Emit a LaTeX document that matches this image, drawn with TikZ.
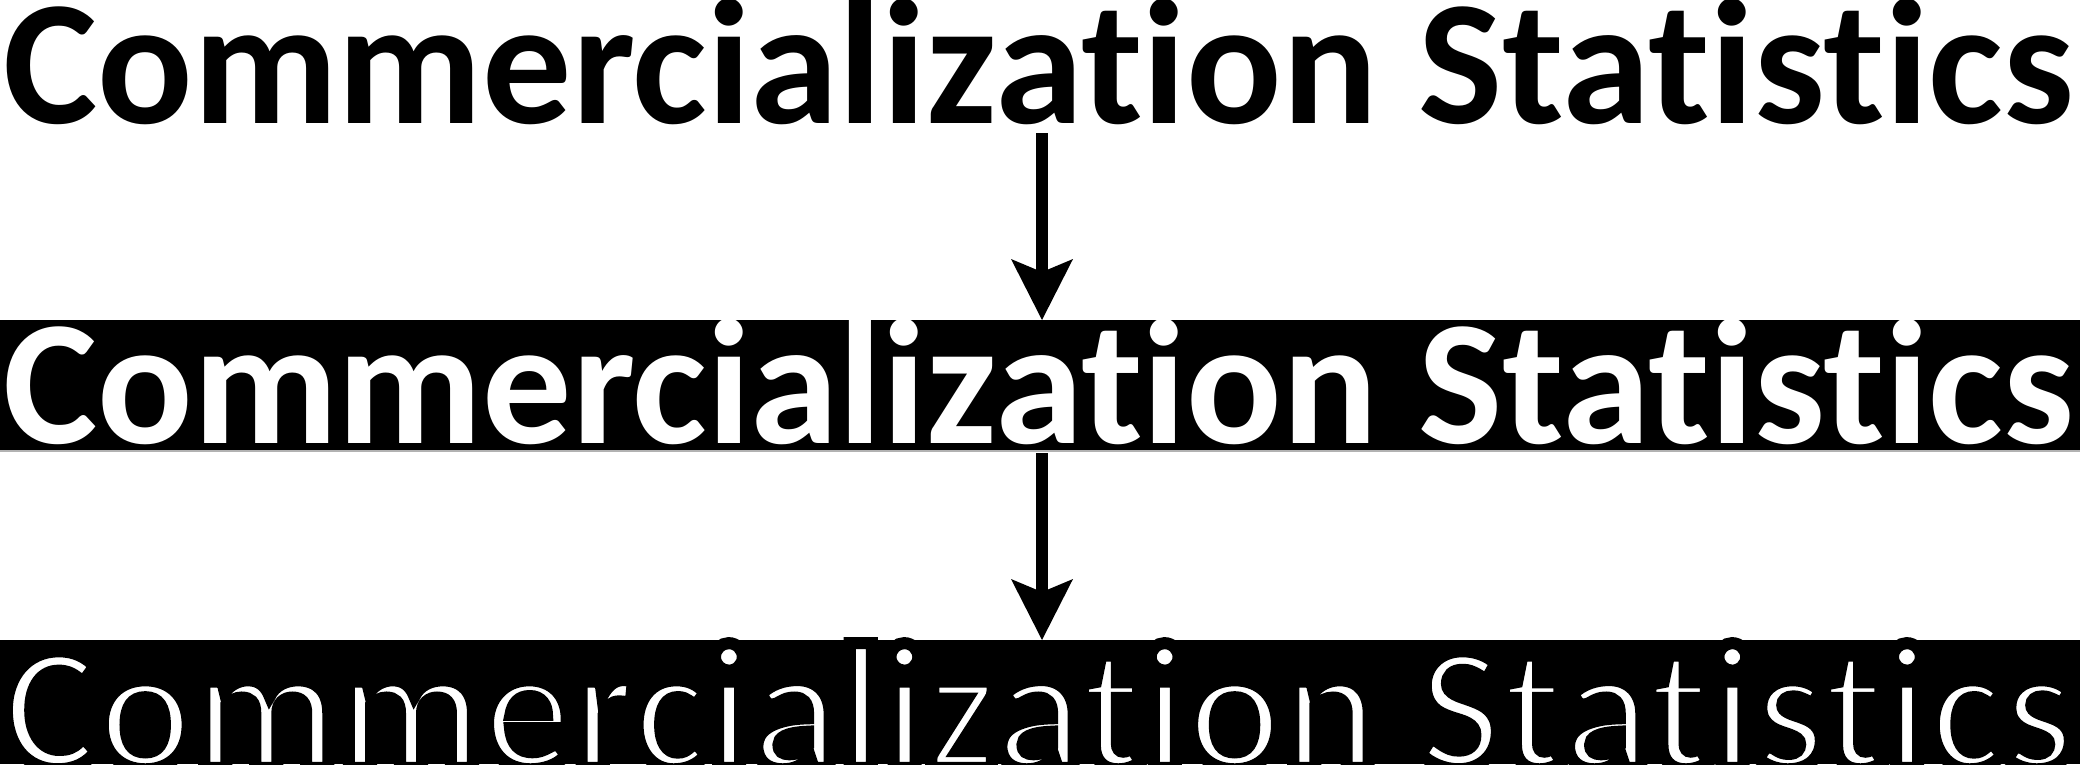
\documentclass[tikz,border=0pt]{standalone}
\usepackage{fontspec}
\usetikzlibrary{arrows.meta}
\newfontfamily\calib{Carlito}[Ligatures=NoCommon]
\newcommand{\headline}{Commercialization Statistics}
% thin the glyphs: stroke their outlines in black over the white text
\newcommand{\thinned}[1]{#1\llap{\special{pdf:literal direct 1 Tr 12 w 0 0 0 RG}#1\special{pdf:literal direct 0 Tr}}}

\begin{document}
\begin{tikzpicture}[x=1pt,y=-1pt,
  title/.style={inner sep=0pt, anchor=base west, font=\calib\bfseries\fontsize{178}{200}\selectfont},
  band/.style={fill=black, inner sep=0pt, minimum width=2080pt, anchor=north west},
  flow/.style={line width=12pt, -{Stealth[length=61pt,width=62pt,inset=13pt,line width=0pt]}}]
\useasboundingbox (0,0) rectangle (2084,764);
\clip (0,0) rectangle (2084,764);
\node[band, minimum height=130pt] (band2) at (0,320) {};
\node[band, minimum height=124pt] (band3) at (0,640) {};
\draw[black!30, line width=2pt] ([yshift=-1pt]band2.south west) -- ([yshift=-1pt]band2.south east);
\node[title] (title1) at (3,123) {\headline};
\node[title, text=white] (title2) at (3,443) {\headline};
\node[title, text=white] (title3) at (3,768) {\thinned{\headline}};
\coordinate (a1) at (1042,133);
\coordinate (a2) at (1042,453);
\draw[flow] (a1) -- (a1 |- band2.north);
\draw[flow] (a2) -- (a2 |- band3.north);
\end{tikzpicture}
\end{document}
